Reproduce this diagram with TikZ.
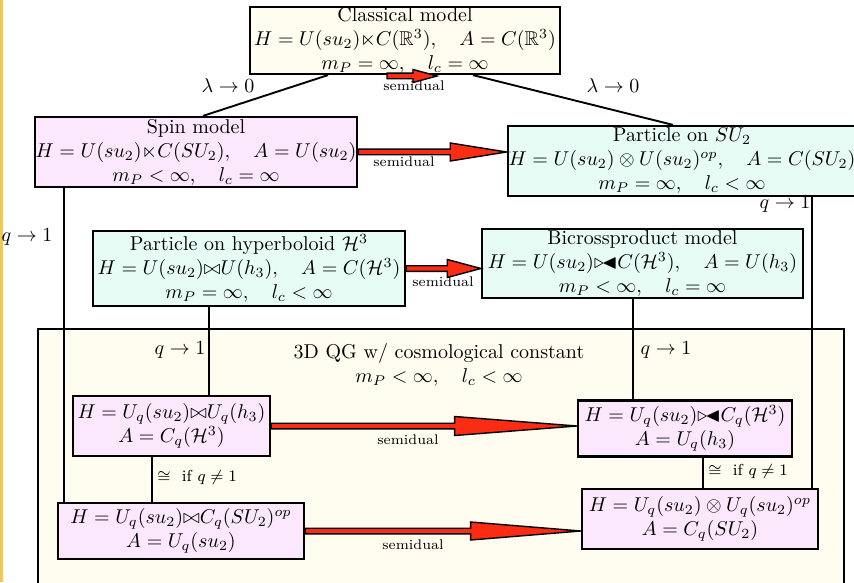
\documentclass[tikz,border=0pt]{standalone}
\usepackage{amsmath,amssymb}
\usetikzlibrary{calc}
\newlength\pxu \setlength\pxu{0.5pt}
\definecolor{cream}{RGB}{255,252,240}
\definecolor{pinkbox}{RGB}{252,232,252}
\definecolor{cyanbox}{RGB}{232,252,246}
\definecolor{arrred}{RGB}{250,45,20}
\definecolor{stripe}{RGB}{247,200,70}
\newcommand\bicross{\mathrel{\triangleright\mkern-7mu\blacktriangleleft}}
\newcommand\semiarrow[4]{%
  \path[semiarrowsty] let \p1=(#1), \p2=(#2), \n1={(\x2-\x1)*#3}, \n2={#4*\pxu}, \n3={2.8*\pxu} in
    (\x1,\y1+\n3) -- (\x2-\n1,\y1+\n3) -- (\x2-\n1,\y1+\n2) -- (\x2,\y1)
    -- (\x2-\n1,\y1-\n2) -- (\x2-\n1,\y1-\n3) -- (\x1,\y1-\n3) -- cycle;}
\begin{document}
\begin{tikzpicture}[x=0.5pt,y=-0.5pt,
  box/.style={draw=black, line width=1.1pt, align=center, inner xsep=0.5pt, inner ysep=0pt},
  conn/.style={draw=black, line width=0.95pt},
  semiarrowsty/.style={fill=arrred, draw=black, line width=0.7pt, line join=miter},
  sdlabel/.style={font=\scriptsize, inner sep=0pt},
  lbl/.style={inner sep=0pt},
  small lbl/.style={font=\footnotesize, inner sep=0pt}]
\useasboundingbox (0,0) rectangle (854,582);
\clip (0,0) rectangle (854,582);
\fill[white] (0,0) rectangle (854,582);
\fill[stripe] (0,0) rectangle (2.5,582);

% big container box
\node[box, fill=cream, anchor=north west, minimum width=806\pxu, minimum height=300\pxu] (qg) at (37,328) {};
\node[lbl, align=center] (qgtitle) at (439,365) {3D QG w/ cosmological constant\\ $m_P<\infty,\quad l_c<\infty$};

% nodes
\node[box, fill=cream, minimum width=310\pxu, minimum height=67\pxu] (cls) at (405,40.5)
  {Classical model\\ $H=U(su_2){\ltimes}C(\mathbb{R}^3),\quad A=C(\mathbb{R}^3)$\\ $m_P=\infty,\quad l_c=\infty$};
\node[box, fill=pinkbox, minimum width=320\pxu, minimum height=70\pxu] (spin) at (196,152)
  {Spin model\\ $H=U(su_2){\ltimes}C(SU_2),\quad A=U(su_2)$\\ $m_P<\infty,\quad l_c=\infty$};
\node[box, fill=cyanbox, minimum width=342\pxu, minimum height=70\pxu] (psu) at (682,161)
  {Particle on $SU_2$\\ $H=U(su_2)\otimes U(su_2)^{op},\quad A=C(SU_2)$\\ $m_P=\infty,\quad l_c<\infty$};
\node[box, fill=cyanbox, minimum width=312\pxu, minimum height=75\pxu] (hyp) at (249,268.5)
  {Particle on hyperboloid $\mathcal{H}^3$\\ $H=U(su_2){\bowtie}U(h_3),\quad A=C(\mathcal{H}^3)$\\ $m_P=\infty,\quad l_c<\infty$};
\node[box, fill=cyanbox, minimum width=321\pxu, minimum height=69\pxu] (bic) at (642.5,263.5)
  {Bicrossproduct model\\ $H=U(su_2){\bicross}C(\mathcal{H}^3),\quad A=U(h_3)$\\ $m_P<\infty,\quad l_c=\infty$};
\node[box, fill=pinkbox, minimum width=197\pxu, minimum height=60\pxu] (uqa) at (171.5,426)
  {$H=U_q(su_2){\bowtie}U_q(h_3)$\\ $A=C_q(\mathcal{H}^3)$};
\node[box, fill=pinkbox, minimum width=214\pxu, minimum height=56\pxu] (uqb) at (685,428.5)
  {$H=U_q(su_2){\bicross}C_q(\mathcal{H}^3)$\\ $A=U_q(h_3)$};
\node[box, fill=pinkbox, minimum width=246\pxu, minimum height=56\pxu] (uqc) at (181,531)
  {$H=U_q(su_2){\bowtie}C_q(SU_2)^{op}$\\ $A=U_q(su_2)$};
\node[box, fill=pinkbox, minimum width=236\pxu, minimum height=60\pxu] (uqd) at (700,519)
  {$H=U_q(su_2)\otimes U_q(su_2)^{op}$\\ $A=C_q(SU_2)$};

% connectors
\draw[conn] (cls.south -| 328,0) -- (spin.north -| 203,0);
\draw[conn] (cls.south -| 473,0) -- (psu.north -| 673,0);
\draw[conn] (spin.south -| 64,0) -- (uqc.north -| 64,0);
\draw[conn] (psu.south -| 812,0) -- (uqd.north -| 812,0);
\draw[conn] (hyp.south -| 209,0) -- (uqa.north -| 209,0);
\draw[conn] (bic.south -| 633,0) -- (uqb.north -| 633,0);
\draw[conn] (uqa.south -| 152,0) -- (uqc.north -| 152,0);
\draw[conn] (uqb.south -| 703,0) -- (uqd.north -| 703,0);

% semidual arrows
\coordinate (sdA) at (387,76);
\coordinate (sdB) at (437,76);
\semiarrow{sdA}{sdB}{0.48}{6.5}
\node[sdlabel] (sdlA) at (414,86) {semidual};
\semiarrow{spin.east}{spin.east -| psu.west}{0.38}{9}
\node[sdlabel] (sdlB) at (404,162) {semidual};
\semiarrow{hyp.east}{hyp.east -| bic.west}{0.45}{9}
\node[sdlabel] (sdlC) at (443,282) {semidual};
\semiarrow{uqa.east}{uqa.east -| uqb.west}{0.4}{9.5}
\node[sdlabel] (sdlD) at (408,440) {semidual};
\semiarrow{uqc.east}{uqc.east -| uqd.west}{0.4}{9}
\node[sdlabel] (sdlE) at (413,545) {semidual};

% labels
\node[lbl] (la) at (228,86) {$\lambda\to0$};
\node[lbl] (lb) at (613,86) {$\lambda\to0$};
\node[lbl] (qa) at (27,237) {$q\to1$};
\node[lbl] (qb) at (785,204) {$q\to1$};
\node[lbl] (qc) at (180,350) {$q\to1$};
\node[lbl] (qd) at (666,350) {$q\to1$};
\node[small lbl, anchor=west] (ca) at (157,477) {$\cong$\ \ if $q\neq1$};
\node[small lbl, anchor=west] (cb) at (708,471) {$\cong$\ \ if $q\neq1$};
\end{tikzpicture}
\end{document}
